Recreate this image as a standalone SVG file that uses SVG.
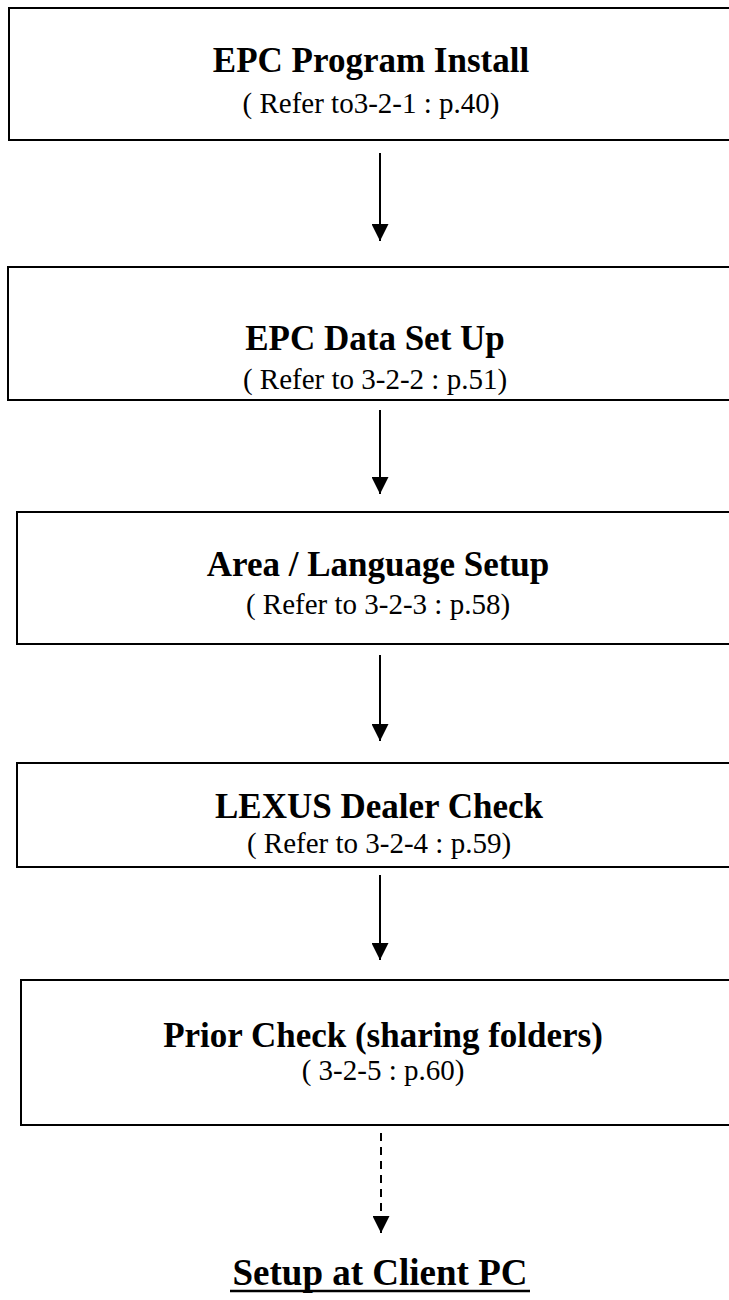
<svg xmlns="http://www.w3.org/2000/svg" width="729" height="1300" viewBox="0 0 729 1300">
<defs>
<style>
.box{fill:#fff;stroke:#000;stroke-width:2}
.t{font-family:"Liberation Serif","Times New Roman",serif;font-weight:bold;font-size:35px;text-anchor:middle;fill:#000}
.s{font-family:"Liberation Serif","Times New Roman",serif;font-size:29px;text-anchor:middle;fill:#000}
.c{stroke:#000;stroke-width:2;fill:none}
</style>
<marker id="ah" viewBox="0 0 10 10" refX="10" refY="5" markerWidth="17" markerHeight="17" markerUnits="userSpaceOnUse" orient="auto">
<path d="M0,0 L10,5 L0,10 z" fill="#000"/>
</marker>
</defs>
<rect width="729" height="1300" fill="#fff"/>
<g id="n1"><rect class="box" x="9" y="8" width="740" height="132"/><text class="t" x="371" y="72">EPC Program Install</text><text class="s" x="371" y="113">( Refer to3-2-1 : p.40)</text></g>
<g id="n2"><rect class="box" x="8" y="267" width="740" height="133"/><text class="t" x="375" y="350">EPC Data Set Up</text><text class="s" x="375" y="389">( Refer to 3-2-2 : p.51)</text></g>
<g id="n3"><rect class="box" x="17" y="512" width="740" height="132"/><text class="t" x="378" y="576">Area / Language Setup</text><text class="s" x="378" y="614">( Refer to 3-2-3 : p.58)</text></g>
<g id="n4"><rect class="box" x="17" y="763" width="740" height="104"/><text class="t" x="379" y="818">LEXUS Dealer Check</text><text class="s" x="379" y="853">( Refer to 3-2-4 : p.59)</text></g>
<g id="n5"><rect class="box" x="21" y="980" width="740" height="145"/><text class="t" x="383" y="1047">Prior Check (sharing folders)</text><text class="s" x="383" y="1080">( 3-2-5 : p.60)</text></g>
<g id="n6"><text class="t" x="380" y="1285" style="font-size:37px">Setup at Client PC</text><line x1="230" y1="1291" x2="530" y2="1291" stroke="#000" stroke-width="2.5"/></g>
<g id="connectors">
<line class="c" x1="380" y1="153" x2="380" y2="241" marker-end="url(#ah)"/>
<line class="c" x1="380" y1="410" x2="380" y2="494" marker-end="url(#ah)"/>
<line class="c" x1="380" y1="655" x2="380" y2="741" marker-end="url(#ah)"/>
<line class="c" x1="380" y1="875" x2="380" y2="960" marker-end="url(#ah)"/>
<line class="c" x1="381" y1="1133" x2="381" y2="1233" stroke-dasharray="8,6" marker-end="url(#ah)"/>
</g>
</svg>
